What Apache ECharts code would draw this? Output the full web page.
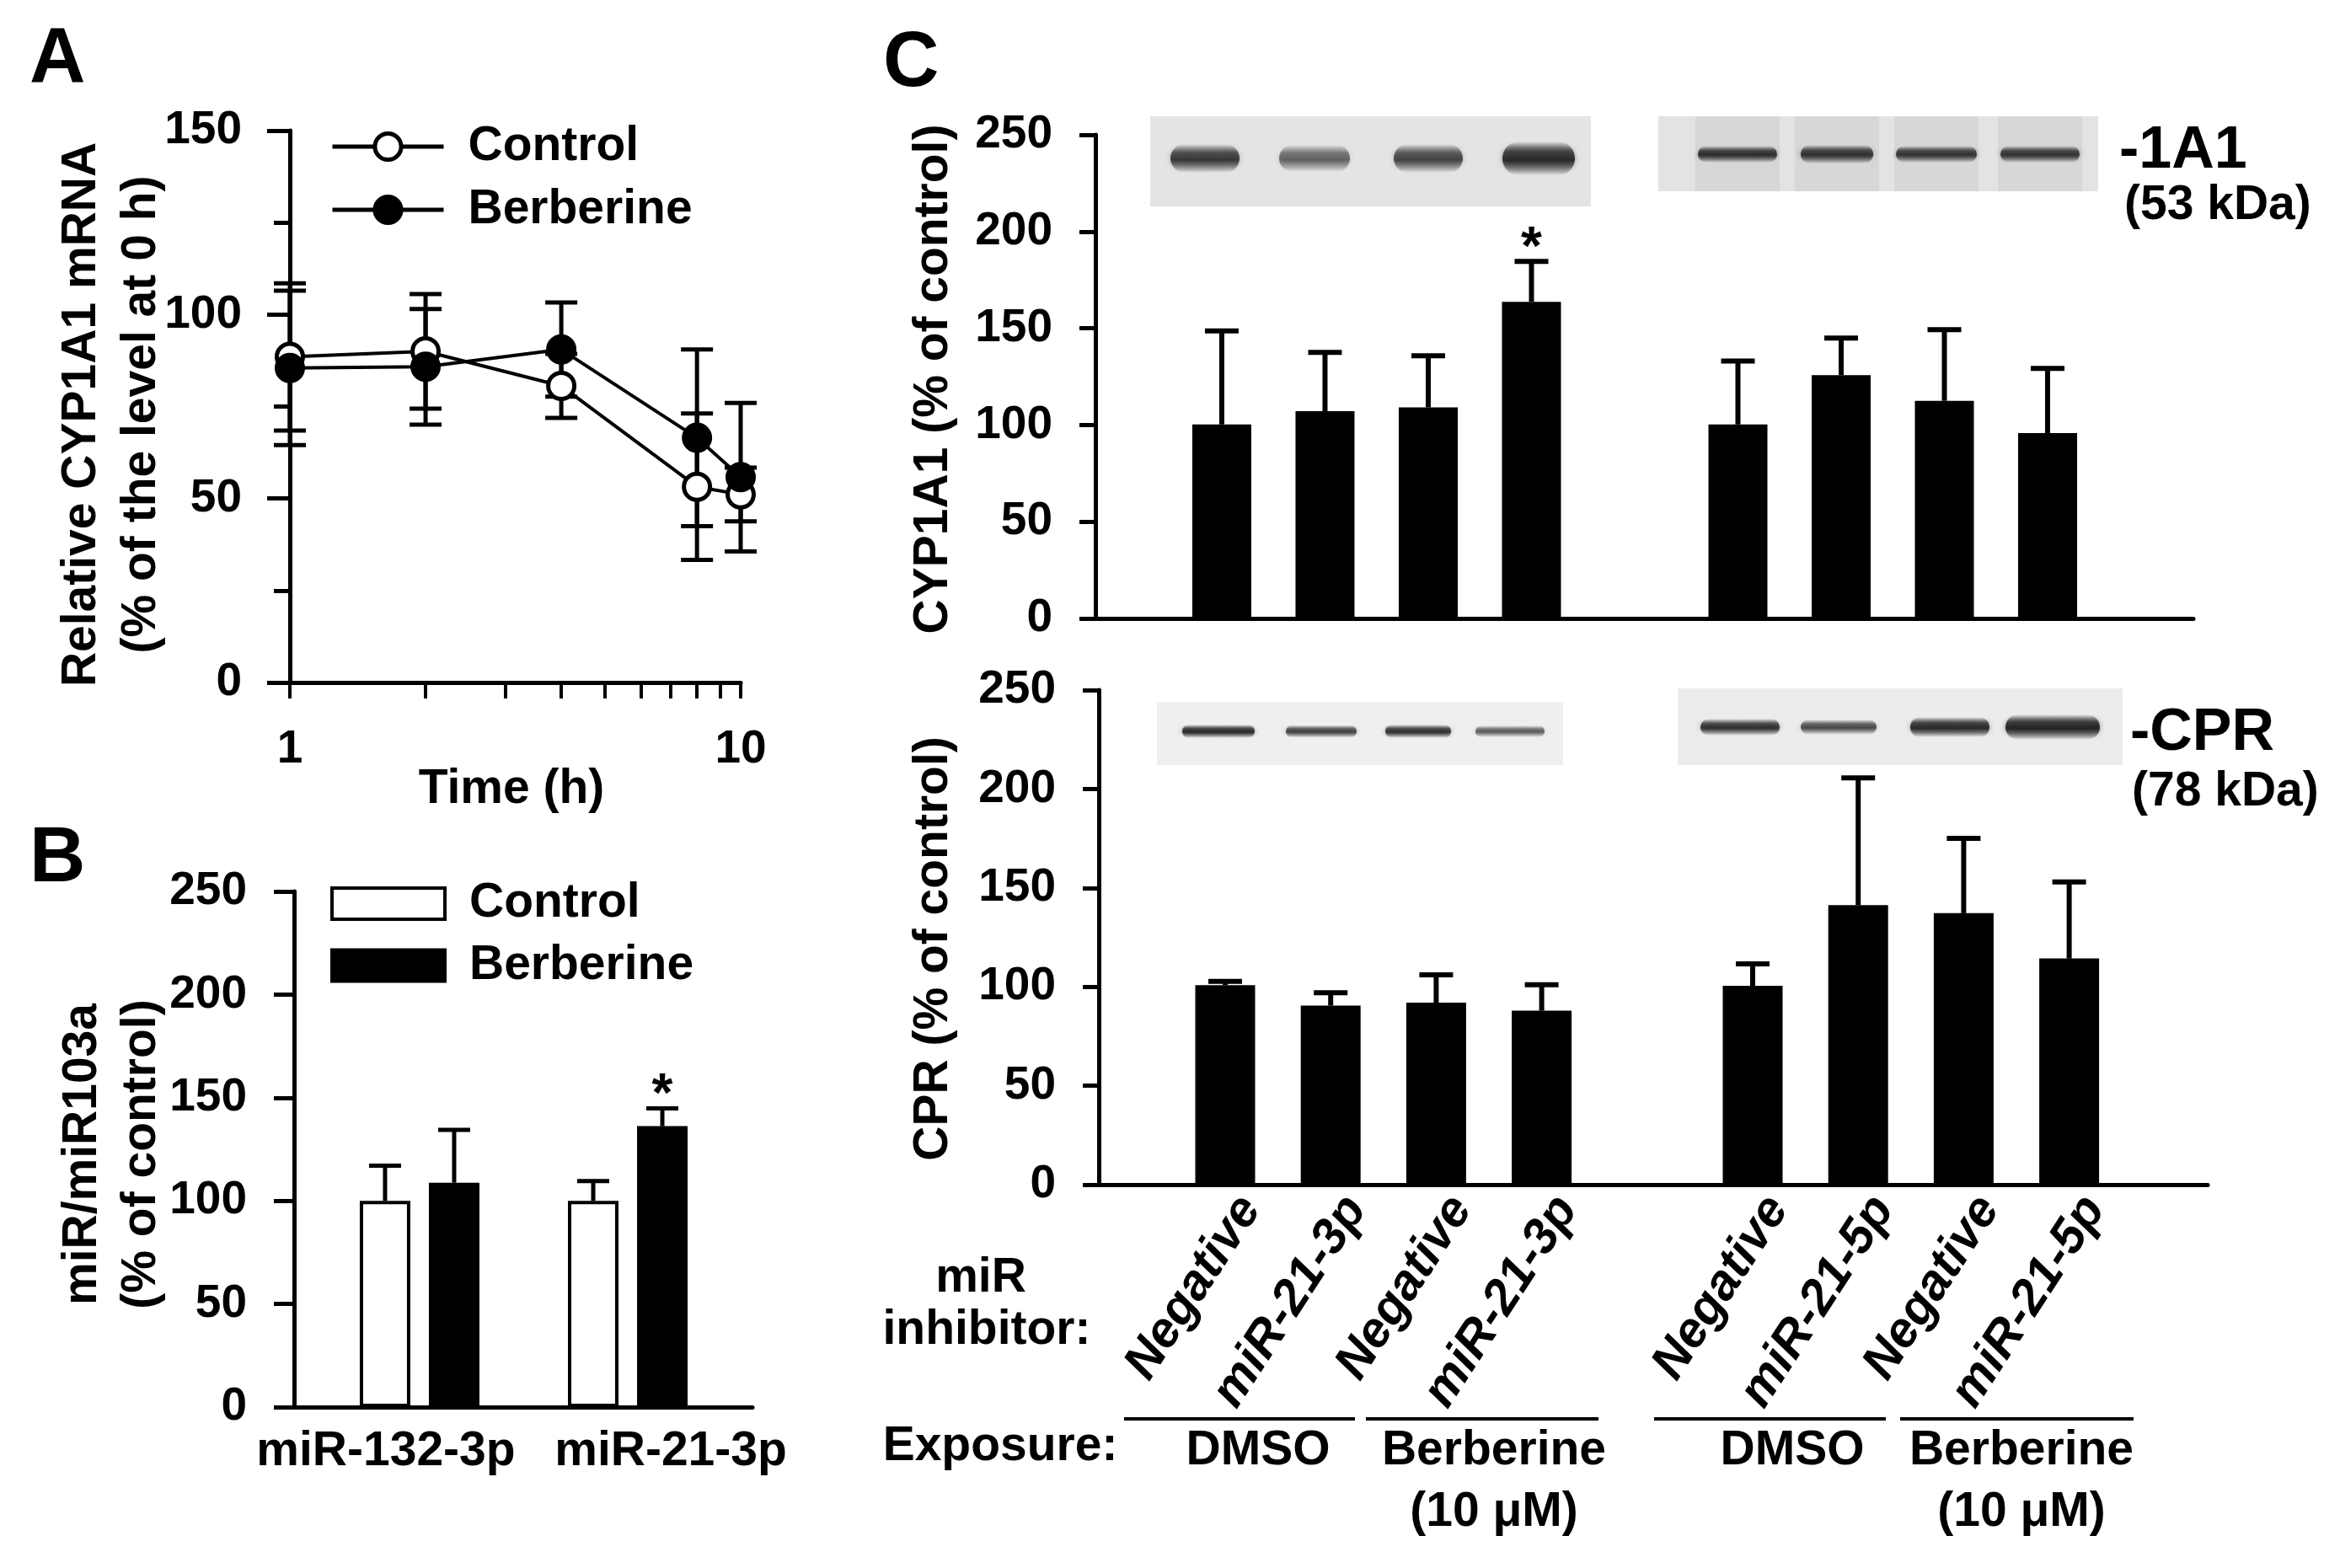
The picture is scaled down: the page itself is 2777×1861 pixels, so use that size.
<!DOCTYPE html>
<html><head><meta charset="utf-8">
<script src="https://cdn.jsdelivr.net/npm/echarts@6/dist/echarts.min.js"></script>
<style>html,body{margin:0;padding:0;background:#fff}#c{width:2777px;height:1861px}</style>
</head><body><div id="c"></div>
<script>
// ---------- Panel A data ----------
const timeH = [1, 2, 4, 8, 10];
const aControl = [88.5, 90, 80.6, 53.2, 51.1];
const aControlSem = [20, 15.6, 8.7, 19.9, 7.3];
const aBerberine = [85.5, 85.8, 90.5, 66.5, 55.8];
const aBerberineSem = [21, 15.7, 12.8, 24, 20.2];
const aXTicks = [1, 2, 3, 4, 5, 6, 7, 8, 9, 10];
const aXLabels = [1, 10];

// ---------- Panel B data ----------
const bCategories = ['miR-132-3p', 'miR-21-3p'];
const bControl = [100, 100];
const bControlSem = [17, 9.6];
const bBerberine = [108.8, 136.2];
const bBerberineSem = [25.6, 8.6];
const bBerberineSig = [0, 1];

// ---------- Panel C data ----------
const cInhibitors = ['Negative', 'miR-21-3p', 'Negative', 'miR-21-3p', 'Negative', 'miR-21-5p', 'Negative', 'miR-21-5p'];
const cSlots = [0, 1, 2, 3, 5, 6, 7, 8];
const cCyp = [100.3, 107.1, 109.1, 163.7, 100.3, 125.8, 112.5, 95.8];
const cCypSem = [48.3, 30.4, 26.7, 20.9, 32.8, 19.1, 36.8, 33.5];
const cCypSig = [0, 0, 0, 1, 0, 0, 0, 0];
const cCpr = [100.8, 90.5, 92, 87.9, 100.5, 141.3, 137.2, 114.3];
const cCprSem = [2, 6.5, 14, 13.1, 11.1, 64.3, 37.8, 38.7];
const cExposure = ['DMSO', 'Berberine\n(10 μM)', 'DMSO', 'Berberine\n(10 μM)'];

const F = "'Liberation Sans', Arial, Helvetica, sans-serif";
const BLACK = '#000';

function errRender(cap, lw, both) {
  return function (params, api) {
    const x = api.value(0), y = api.value(1), e = api.value(2), sig = api.value(3);
    const top = api.coord([x, y + e]);
    const mid = api.coord([x, y]);
    const bot = api.coord([x, y - e]);
    const st = { stroke: BLACK, lineWidth: lw };
    const start = both ? bot : mid;
    const ch = [
      { type: 'line', shape: { x1: top[0], y1: top[1], x2: start[0], y2: start[1] }, style: st },
      { type: 'line', shape: { x1: top[0] - cap / 2, y1: top[1], x2: top[0] + cap / 2, y2: top[1] }, style: st }
    ];
    if (both) ch.push({ type: 'line', shape: { x1: bot[0] - cap / 2, y1: bot[1], x2: bot[0] + cap / 2, y2: bot[1] }, style: st });
    if (sig) ch.push({ type: 'text', style: { text: '*', x: top[0], y: top[1] - 14, align: 'center', verticalAlign: 'middle', fontSize: 64, fontWeight: 'bold', fontFamily: F, fill: BLACK } });
    return { type: 'group', children: ch };
  };
}

function yAx(gridIndex, max, tickLen, margin) {
  return {
    type: 'value', gridIndex, min: 0, max, interval: 50,
    axisLine: { show: true, onZero: false, lineStyle: { color: BLACK, width: 5 } },
    axisTick: { show: true, length: tickLen, lineStyle: { color: BLACK, width: 5 } },
    axisLabel: { fontSize: 55, fontWeight: 'bold', color: BLACK, fontFamily: F, margin },
    splitLine: { show: false }
  };
}

const bOff = 0.166;
const labelFont = { fontSize: 57, fontWeight: 'bold', fontFamily: F, color: BLACK };

function txt(text, x, y, size, extra, rotation) {
  const el = {
    type: 'text', x, y, silent: true,
    style: Object.assign({ text, fontSize: size, fontWeight: 'bold', fontFamily: F, fill: BLACK, align: 'center', verticalAlign: 'middle' }, extra || {})
  };
  if (rotation) el.rotation = rotation;
  return el;
}

// Western-blot pictures (decorative)
const blots = [
  { x: 1365, y: 138, w: 523, h: 107, bg: '#e4e4e4', cy: 188, lanes: false, bands: [[1430, 82, 34, 0.85], [1560, 84, 32, 0.62], [1695, 82, 34, 0.78], [1826, 86, 40, 0.95]] },
  { x: 1968, y: 138, w: 522, h: 89, bg: '#e3e3e3', cy: 183, lanes: true, bands: [[2062, 94, 20, 0.92], [2180, 86, 22, 0.9], [2298, 96, 20, 0.88], [2421, 94, 20, 0.88]] },
  { x: 1373, y: 833, w: 482, h: 75, bg: '#efefef', cy: 868, lanes: false, bands: [[1446, 86, 16, 0.95], [1568, 84, 15, 0.8], [1683, 78, 16, 0.9], [1792, 82, 14, 0.65]] },
  { x: 1991, y: 817, w: 528, h: 91, bg: '#ececec', cy: 863, lanes: false, bands: [[2065, 94, 20, 0.9], [2182, 90, 18, 0.75], [2314, 94, 24, 0.95], [2436, 112, 30, 1]] }
];
const blotEls = [];
blots.forEach(b => {
  blotEls.push({ type: 'rect', silent: true, shape: { x: b.x, y: b.y, width: b.w, height: b.h }, style: { fill: b.bg } });
  if (b.lanes) b.bands.forEach(d => blotEls.push({ type: 'rect', silent: true, shape: { x: d[0] - 50, y: b.y, width: 100, height: b.h }, style: { fill: 'rgba(0,0,0,0.05)' } }));
  b.bands.forEach(d => {
    blotEls.push({
      type: 'rect', silent: true,
      shape: { x: d[0] - d[1] / 2, y: b.cy - d[2] / 2, width: d[1], height: d[2], r: d[2] / 2 },
      style: {
        shadowBlur: 6, shadowColor: 'rgba(40,40,40,' + (d[3] * 0.5) + ')',
        fill: { type: 'linear', x: 0, y: 0, x2: 0, y2: 1, colorStops: [
          { offset: 0, color: 'rgba(35,35,35,0)' }, { offset: 0.3, color: 'rgba(35,35,35,' + (d[3] * 0.8) + ')' },
          { offset: 0.55, color: 'rgba(35,35,35,' + d[3] + ')' }, { offset: 1, color: 'rgba(35,35,35,0)' }] }
      }
    });
  });
});

const expStyle = { align: 'center', verticalAlign: 'top', lineHeight: 73 };
const graphics = [
  txt('A', 35, 72, 92, { align: 'left' }),
  txt('B', 35, 1021, 92, { align: 'left' }),
  txt('C', 1048, 77, 92, { align: 'left' }),
  txt('Relative CYP1A1 mRNA\n(% of the level at 0 h)', 133, 492, 57, { lineHeight: 71 }, Math.PI / 2),
  txt('Time (h)', 607, 937, 57),
  txt('miR/miR103a\n(% of control)', 133, 1370, 57, { lineHeight: 70 }, Math.PI / 2),
  txt('CYP1A1 (% of control)', 1108, 450, 57, null, Math.PI / 2),
  txt('CPR (% of control)', 1108, 1126, 57, null, Math.PI / 2),
  txt('miR', 1164, 1517, 57),
  txt('inhibitor:', 1171, 1579, 57),
  txt('Exposure:', 1187, 1717, 57),
  txt(cExposure[0], 1493, 1686, 57, expStyle),
  txt(cExposure[1], 1773, 1686, 57, expStyle),
  txt(cExposure[2], 2127, 1686, 57, expStyle),
  txt(cExposure[3], 2399, 1686, 57, expStyle),
  { type: 'line', silent: true, shape: { x1: 1334, y1: 1684, x2: 1608, y2: 1684 }, style: { stroke: BLACK, lineWidth: 4 } },
  { type: 'line', silent: true, shape: { x1: 1621, y1: 1684, x2: 1897, y2: 1684 }, style: { stroke: BLACK, lineWidth: 4 } },
  { type: 'line', silent: true, shape: { x1: 1963, y1: 1684, x2: 2238, y2: 1684 }, style: { stroke: BLACK, lineWidth: 4 } },
  { type: 'line', silent: true, shape: { x1: 2255, y1: 1684, x2: 2532, y2: 1684 }, style: { stroke: BLACK, lineWidth: 4 } },
  txt('-1A1', 2515, 180, 70, { align: 'left' }),
  txt('(53 kDa)', 2521, 244, 57, { align: 'left' }),
  txt('-CPR', 2528, 871, 70, { align: 'left' }),
  txt('(78 kDa)', 2530, 940, 57, { align: 'left' })
].concat(blotEls);

const chart = echarts.init(document.getElementById('c'), null, { renderer: 'canvas' });
chart.setOption({
  animation: false,
  backgroundColor: '#fff',
  textStyle: { fontFamily: F },
  grid: [
    { left: 344, top: 155, width: 535, height: 655 },
    { left: 349, top: 1058, width: 544, height: 612 },
    { left: 1300, top: 160, width: 1303, height: 574 },
    { left: 1304, top: 819, width: 1316, height: 587 }
  ],
  legend: [
    { data: ['Control', 'Berberine'], orient: 'vertical', left: 392, top: 145.5, padding: 0, itemGap: 18, itemWidth: 132, itemHeight: 39,
      selectedMode: false, lineStyle: { width: 5, color: BLACK }, itemStyle: { borderWidth: 5, borderColor: BLACK },
      textStyle: Object.assign({ lineHeight: 57, padding: [0, 0, 0, 24] }, labelFont) },
    { data: ['B:Control', 'B:Berberine'], orient: 'vertical', left: 392, top: 1044, padding: 0, itemGap: 16.5, itemWidth: 134, itemHeight: 37, icon: 'rect',
      selectedMode: false, itemStyle: { borderWidth: 4, borderColor: BLACK }, formatter: n => n.split(':')[1],
      textStyle: Object.assign({ lineHeight: 57, padding: [0, 0, 0, 24] }, labelFont) }
  ],
  xAxis: [
    { type: 'log', gridIndex: 0, logBase: 10, min: 1, max: 10,
      axisLine: { onZero: false, lineStyle: { color: BLACK, width: 5 } },
      axisTick: { show: true, customValues: aXTicks, length: 19, lineStyle: { color: BLACK, width: 4 } },
      axisLabel: { customValues: aXLabels, fontSize: 55, fontWeight: 'bold', color: BLACK, fontFamily: F, margin: 52 },
      splitLine: { show: false } },
    { type: 'value', gridIndex: 1, min: -0.603, max: 1.599,
      axisLine: { onZero: false, lineStyle: { color: BLACK, width: 5 } }, axisTick: { show: false }, splitLine: { show: false },
      axisLabel: { customValues: [0, 1], margin: 25, color: BLACK,
        formatter: v => (Math.round(v) === 0 ? '{l|' + bCategories[0] + '}' : '{r|' + bCategories[1] + '}'),
        rich: { l: Object.assign({ padding: [0, 80, 0, 0] }, labelFont), r: Object.assign({ padding: [0, 0, 0, 102] }, labelFont) } } },
    { type: 'value', gridIndex: 2, min: -1.224, max: 9.412,
      axisLine: { onZero: false, lineStyle: { color: BLACK, width: 5 } }, axisTick: { show: false }, axisLabel: { show: false }, splitLine: { show: false } },
    { type: 'value', gridIndex: 3, min: -1.198, max: 9.313,
      axisLine: { onZero: false, lineStyle: { color: BLACK, width: 5 } }, axisTick: { show: false }, splitLine: { show: false },
      axisLabel: { customValues: cSlots, rotate: 57, align: 'right', verticalAlign: 'top', margin: 0, padding: [6, 0, 0, 0], hideOverlap: false,
        fontSize: 59, fontWeight: 'bold', fontStyle: 'italic', fontFamily: F, color: BLACK,
        formatter: v => cInhibitors[cSlots.indexOf(Math.round(v))] } }
  ],
  yAxis: [
    Object.assign(yAx(0, 150, 27, 57), { minorTick: { show: true, splitNumber: 2, length: 19, lineStyle: { color: BLACK, width: 5 } } }),
    yAx(1, 250, 24, 56),
    yAx(2, 250, 19, 51),
    yAx(3, 250, 19, 51)
  ],
  graphic: graphics,
  series: [
    // Panel A
    { type: 'custom', name: 'errA1', xAxisIndex: 0, yAxisIndex: 0, z: 1, renderItem: errRender(38, 5, true),
      data: timeH.map((t, i) => [t, aControl[i], aControlSem[i], 0]) },
    { type: 'custom', name: 'errA2', xAxisIndex: 0, yAxisIndex: 0, z: 1, renderItem: errRender(38, 5, true),
      data: timeH.map((t, i) => [t, aBerberine[i], aBerberineSem[i], 0]) },
    { type: 'line', name: 'Control', xAxisIndex: 0, yAxisIndex: 0, z: 3, symbol: 'circle', symbolSize: 31,
      itemStyle: { color: '#fff', borderColor: BLACK, borderWidth: 5 }, lineStyle: { color: BLACK, width: 4 },
      data: timeH.map((t, i) => [t, aControl[i]]) },
    { type: 'line', name: 'Berberine', xAxisIndex: 0, yAxisIndex: 0, z: 4, symbol: 'circle', symbolSize: 31,
      itemStyle: { color: BLACK, borderColor: BLACK, borderWidth: 5 }, lineStyle: { color: BLACK, width: 4 },
      data: timeH.map((t, i) => [t, aBerberine[i]]) },
    // Panel B
    { type: 'bar', name: 'B:Control', xAxisIndex: 1, yAxisIndex: 1, barWidth: 60, barGap: '-100%',
      itemStyle: { color: '#fff', borderColor: BLACK, borderWidth: 4 },
      data: bControl.map((v, i) => [i - bOff, v]) },
    { type: 'bar', name: 'B:Berberine', xAxisIndex: 1, yAxisIndex: 1, barWidth: 60, barGap: '-100%',
      itemStyle: { color: BLACK, borderColor: BLACK, borderWidth: 4 },
      data: bBerberine.map((v, i) => [i + bOff, v]) },
    { type: 'custom', name: 'errB1', xAxisIndex: 1, yAxisIndex: 1, z: 3, renderItem: errRender(38, 5, false),
      data: bControl.map((v, i) => [i - bOff, v, bControlSem[i], 0]) },
    { type: 'custom', name: 'errB2', xAxisIndex: 1, yAxisIndex: 1, z: 3, renderItem: errRender(38, 5, false),
      data: bBerberine.map((v, i) => [i + bOff, v, bBerberineSem[i], bBerberineSig[i]]) },
    // Panel C top
    { type: 'bar', name: 'CYP1A1', xAxisIndex: 2, yAxisIndex: 2, barWidth: 70, itemStyle: { color: BLACK },
      data: cCyp.map((v, i) => [cSlots[i], v]) },
    { type: 'custom', name: 'errC1', xAxisIndex: 2, yAxisIndex: 2, z: 3, renderItem: errRender(40, 6, false),
      data: cCyp.map((v, i) => [cSlots[i], v, cCypSem[i], cCypSig[i]]) },
    // Panel C bottom
    { type: 'bar', name: 'CPR', xAxisIndex: 3, yAxisIndex: 3, barWidth: 71, itemStyle: { color: BLACK },
      data: cCpr.map((v, i) => [cSlots[i], v]) },
    { type: 'custom', name: 'errC2', xAxisIndex: 3, yAxisIndex: 3, z: 3, renderItem: errRender(40, 6, false),
      data: cCpr.map((v, i) => [cSlots[i], v, cCprSem[i], 0]) }
  ]
});
</script>
</body></html>
